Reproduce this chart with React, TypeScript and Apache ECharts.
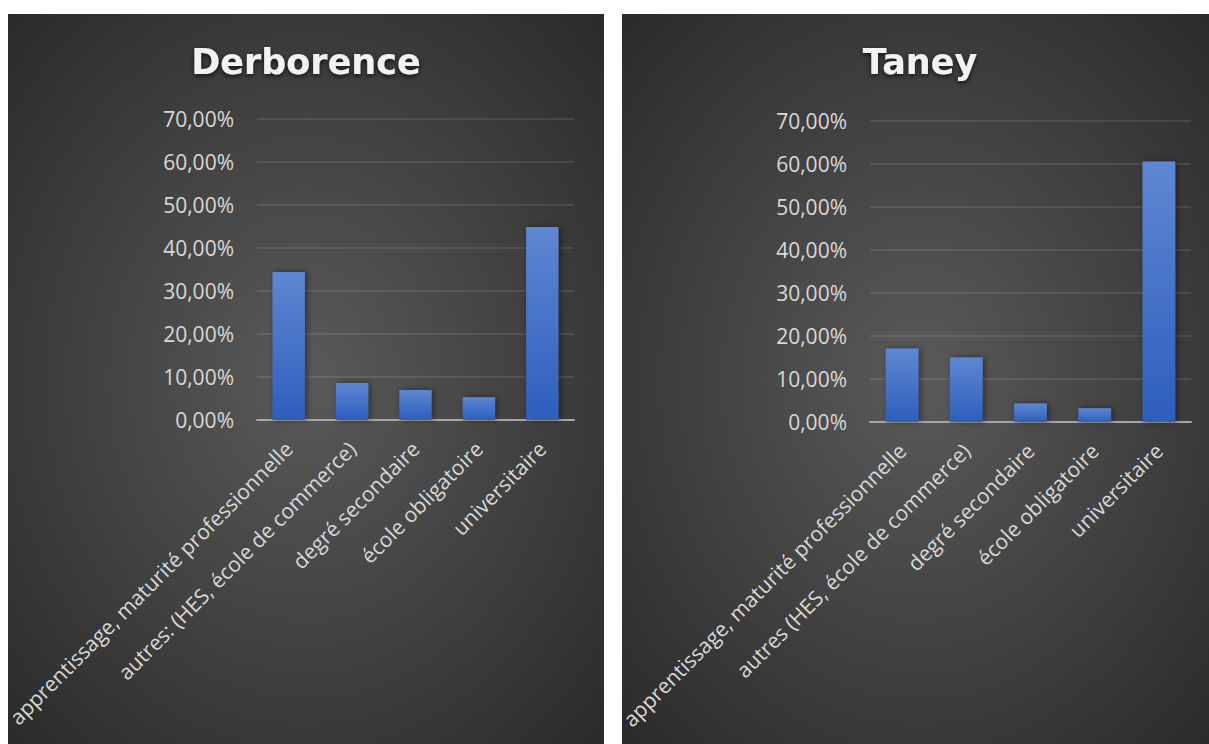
import React, { useEffect, useRef } from "react";
import * as echarts from "echarts";

// Education level shares (%) for the two localities
const leftTitle = "Derborence";
const rightTitle = "Taney";

const leftCategories = [
  "apprentissage, maturité professionnelle",
  "autres: (HES, école de commerce)",
  "degré secondaire",
  "école obligatoire",
  "universitaire",
];
const rightCategories = [
  "apprentissage, maturité professionnelle",
  "autres (HES, école de commerce)",
  "degré secondaire",
  "école obligatoire",
  "universitaire",
];

const leftValues = [34.4, 8.6, 7.0, 5.3, 44.9];
const rightValues = [17.1, 15.0, 4.3, 3.2, 60.6];

const yMin = 0;
const yMax = 70;
const yStep = 10;

const labelColor = "#d9d9d9";
const labelFont = "Open Sans";

const fmtPct = (v: number) => v.toFixed(2).replace(".", ",") + "%";

const panelFill = () =>
  new echarts.graphic.RadialGradient(0.5, 0.5, 0.8, [
    { offset: 0, color: "#5a5a5a" },
    { offset: 1, color: "#242424" },
  ]);

const barFill = () =>
  new echarts.graphic.LinearGradient(0, 0, 0, 1, [
    { offset: 0, color: "#5f87d2" },
    { offset: 1, color: "#2e5ebd" },
  ]);

const makeX = (gridIndex: number, data: string[]) => ({
  type: "category" as const,
  gridIndex,
  data,
  axisTick: { show: false },
  axisLine: { lineStyle: { color: "#a6a6a6", width: 2 } },
  axisLabel: {
    interval: 0,
    rotate: 45,
    margin: 25,
    align: "right",
    verticalAlign: "middle",
    color: labelColor,
    fontFamily: labelFont,
    fontSize: 21,
  },
});

const makeY = (gridIndex: number) => ({
  type: "value" as const,
  gridIndex,
  min: yMin,
  max: yMax,
  interval: yStep,
  axisLine: { show: false },
  axisTick: { show: false },
  axisLabel: {
    margin: 23,
    color: labelColor,
    fontFamily: labelFont,
    fontSize: 21,
    formatter: (v: number) => fmtPct(v),
  },
  splitLine: { lineStyle: { color: "rgba(255,255,255,0.13)", width: 1.5 } },
});

const makeSeries = (idx: number, values: number[]) => ({
  type: "bar" as const,
  xAxisIndex: idx,
  yAxisIndex: idx,
  data: values,
  barWidth: "51%",
  itemStyle: {
    color: barFill(),
    shadowBlur: 6,
    shadowColor: "rgba(0,0,0,0.45)",
    shadowOffsetX: 2,
  },
});

const titleText = (text: string, x: number) => ({
  type: "text" as const,
  x,
  y: 62,
  z: 10,
  style: {
    text,
    fill: "#f2f2f2",
    font: 'bold 35px "DejaVu Sans"',
    align: "center",
    textAlign: "center",
    verticalAlign: "middle",
    textVerticalAlign: "middle",
    textShadowColor: "rgba(0,0,0,0.7)",
    textShadowBlur: 5,
    textShadowOffsetY: 2,
  },
});

export default function App() {
  const ref = useRef<HTMLDivElement>(null);

  useEffect(() => {
    if (!ref.current) return;
    const chart = echarts.init(ref.current, undefined, { renderer: "svg" });
    chart.setOption({
      animation: false,
      graphic: [
        {
          type: "rect",
          z: -100,
          shape: { x: 8, y: 14, width: 596, height: 730 },
          style: { fill: panelFill() },
        },
        {
          type: "rect",
          z: -100,
          shape: { x: 622, y: 14, width: 596, height: 730 },
          style: { fill: panelFill() },
        },
        titleText(leftTitle, 306),
        titleText(rightTitle, 920),
      ],
      grid: [
        { left: 257, right: 635, top: 119, bottom: 324 },
        { left: 870, right: 18, top: 121, bottom: 322 },
      ],
      xAxis: [makeX(0, leftCategories), makeX(1, rightCategories)],
      yAxis: [makeY(0), makeY(1)],
      series: [makeSeries(0, leftValues), makeSeries(1, rightValues)],
    });
    return () => chart.dispose();
  }, []);

  return (
    <div
      ref={ref}
      style={{ position: "absolute", left: 0, top: 0, width: 1209, height: 744 }}
    />
  );
}
